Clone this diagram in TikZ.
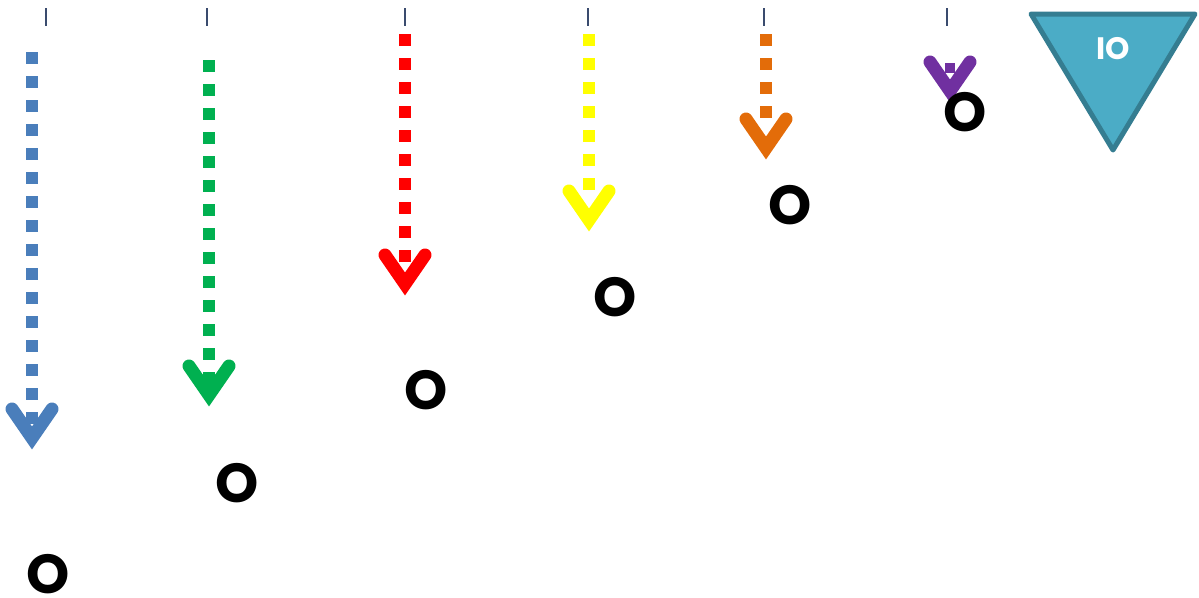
\documentclass[tikz,border=0pt]{standalone}
\usepackage{fontspec}
\setmainfont{Poppins}
\usetikzlibrary{calc}
\definecolor{cblue}{HTML}{4A7EBB}
\definecolor{cgreen}{HTML}{00B050}
\definecolor{cred}{HTML}{FF0000}
\definecolor{cyellow}{HTML}{FFFF00}
\definecolor{corange}{HTML}{E36C09}
\definecolor{cpurple}{HTML}{7030A0}
\definecolor{tick}{HTML}{3A4B6E}
\definecolor{trifill}{HTML}{4BACC6}
\definecolor{tridraw}{HTML}{357D91}
\tikzset{
  dotline/.style={line width=12pt, line cap=butt, dash pattern=on 12pt off 12pt},
  headline/.style={line width=13pt, line cap=round, line join=miter},
  tickline/.style={draw=tick, line width=2pt},
  lbl/.style={font=\fontsize{55}{55}\selectfont\bfseries, text=black, inner sep=0pt},
}
\newcommand{\myhead}[2]{%
  \draw[headline,#2] ($(#1)+(-20,-41)$) -- ($(#1)+(0,-12)$) -- ($(#1)+(20,-41)$);}
\begin{document}
\begin{tikzpicture}[x=1pt,y=-1pt]
\useasboundingbox (0,0) rectangle (1199,597);
% ticks
\foreach \n/\x in {a/46,b/207,c/405,d/588,e/764,f/947}{
  \coordinate (t\n1) at (\x,8);
  \coordinate (t\n2) at (\x,26);
  \draw[tickline] (t\n1) -- (t\n2);
}
% blue
\coordinate (bs) at (32,52); \coordinate (be) at (32,424); \coordinate (bt) at (32,450);
\draw[dotline,draw=cblue] (bs) -- (be);
\myhead{bt}{draw=cblue}
% green
\coordinate (gs) at (209,60); \coordinate (ge) at (209,384); \coordinate (gt) at (209,407);
\draw[dotline,draw=cgreen] (gs) -- (ge);
\myhead{gt}{draw=cgreen}
% red
\coordinate (rs) at (405,34); \coordinate (re) at (405,262); \coordinate (rt) at (405,296);
\draw[dotline,draw=cred] (rs) -- (re);
\myhead{rt}{draw=cred}
% yellow
\coordinate (ys) at (589,34); \coordinate (ye) at (589,190); \coordinate (yt) at (589,232);
\draw[dotline,draw=cyellow] (ys) -- (ye);
\myhead{yt}{draw=cyellow}
% orange
\coordinate (os) at (766,34); \coordinate (oe) at (766,118); \coordinate (ot) at (766,160);
\draw[dotline,draw=corange] (os) -- (oe);
\myhead{ot}{draw=corange}
% purple
\coordinate (ps) at (950,63); \coordinate (pe) at (950,73); \coordinate (pt) at (950,103);
\draw[line width=10pt,draw=cpurple] (ps) -- (pe);
\myhead{pt}{draw=cpurple}
% labels
\node[lbl] (la) at (48.5,574) {O};
\node[lbl] (lb) at (237,483) {O};
\node[lbl] (lc) at (426,390) {O};
\node[lbl] (ld) at (615,297) {O};
\node[lbl] (le) at (790,205) {O};
\node[lbl] (lf) at (965,112) {O};
% triangle
\coordinate (tr1) at (1031,14); \coordinate (tr2) at (1195,14); \coordinate (tr3) at (1113,150);
\draw[fill=trifill, draw=tridraw, line width=5pt, line join=round] (tr1) -- (tr2) -- (tr3) -- cycle;
\node[font=\fontsize{31}{31}\selectfont\bfseries, text=white, inner sep=0pt] (io) at (1113,49) {IO};
\end{tikzpicture}
\end{document}
